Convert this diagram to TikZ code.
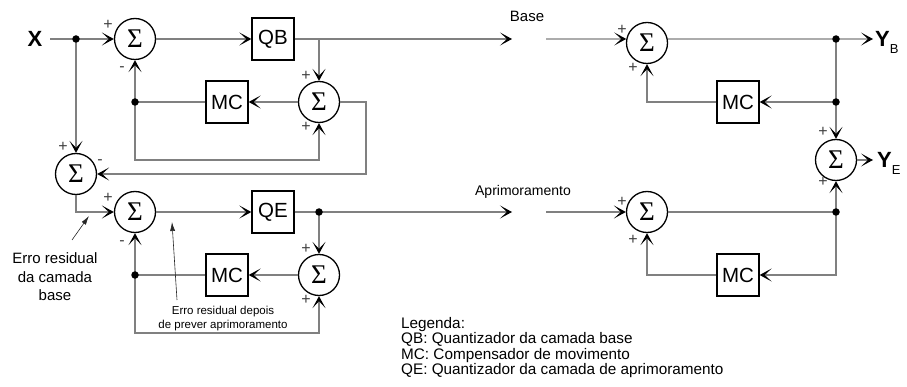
\documentclass[tikz,border=0pt]{standalone}
\usepackage{fontspec}
\setmainfont{Liberation Sans}
\newfontfamily\sigfont{Liberation Serif}
\usetikzlibrary{arrows.meta}
\definecolor{lgray}{RGB}{128,128,128}
\begin{document}
\begin{tikzpicture}[x=1pt,y=-1pt,
  sumnode/.style={circle,draw=black,line width=1.3pt,minimum size=41pt,inner sep=0pt,font=\sigfont\fontsize{27}{27}\selectfont},
  boxnode/.style={draw=black,line width=1.3pt,minimum size=42pt,inner sep=0pt,font=\fontsize{20.5}{20.5}\selectfont},
  conn/.style={draw=lgray,line width=1.1pt},
  arr/.style={conn,-{Stealth[color=black,length=12pt,width=13pt,inset=7pt]}},
  dotnode/.style={circle,fill=black,inner sep=0pt,minimum size=7.5pt},
  sign/.style={font=\fontsize{16}{16}\selectfont,text=black!75,inner sep=0pt},
  lbl/.style={font=\fontsize{15}{15}\selectfont,inner sep=0pt},
  ann/.style={draw=black!85,line width=0.6pt,-{Latex[length=9pt,width=5pt]}},
]
\useasboundingbox (0,0) rectangle (907,387);

% ---- left upper loop
\node[font=\fontsize{22}{22}\selectfont\bfseries,inner sep=0pt] (X) at (35,39) {X};
\coordinate (xin) at (50,39);
\coordinate (d1) at (76,39);
\node[sumnode] (S1) at (135,39) {Σ};
\node[boxnode] (QB) at (273,39) {QB};
\coordinate (b1) at (319,39);
\node[sumnode] (S2) at (319,102) {Σ};
\node[boxnode] (MC1) at (227,102) {MC};
\coordinate (d2) at (135,102);
\coordinate (c1) at (135,160);
\coordinate (c2) at (319,160);
\coordinate (c3) at (366,102);
\coordinate (c4) at (366,174);
\node[sumnode] (S3) at (76,174) {Σ};
\coordinate (c5) at (76,212);
% ---- left lower loop
\node[sumnode] (S4) at (135,212) {Σ};
\node[boxnode] (QE) at (273,212) {QE};
\coordinate (d3) at (319,212);
\node[sumnode] (S6) at (319,275) {Σ};
\node[boxnode] (MC2) at (227,275) {MC};
\coordinate (d4) at (135,275);
\coordinate (c6) at (135,333);
\coordinate (c7) at (319,333);
% ---- right side
\coordinate (a1) at (512,39);
\coordinate (a2) at (546,39);
\node[sumnode] (R1) at (647,43) {Σ};
\coordinate (d5) at (836,39);
\coordinate (d6) at (836,102);
\node[boxnode] (MCR1) at (738,102) {MC};
\coordinate (c8) at (647,102);
\node[sumnode] (S5) at (836,160) {Σ};
\coordinate (yb) at (873,39);
\coordinate (ye) at (873,160);
\node[anchor=base west,inner sep=0pt] (YB) at (875,46.5) {\fontsize{22}{22}\selectfont\bfseries Y\raisebox{-7pt}{\fontsize{13}{13}\selectfont\mdseries B}};
\node[anchor=base west,inner sep=0pt] (YE) at (877,167.5) {\fontsize{22}{22}\selectfont\bfseries Y\raisebox{-7pt}{\fontsize{13}{13}\selectfont\mdseries E}};
\coordinate (a3) at (512,212);
\coordinate (a4) at (546,212);
\node[sumnode] (R2) at (647,212) {Σ};
\coordinate (d7) at (836,212);
\coordinate (c9) at (836,275);
\node[boxnode] (MCR2) at (738,275) {MC};
\coordinate (c10) at (647,275);

\node[lbl] (base) at (527,16) {Base};
\node[lbl,font=\fontsize{14}{14}\selectfont] (apr) at (523,192) {Aprimoramento};

% ---- connectors
\draw[arr] (xin) -- (S1.west);
\draw[arr] (S1.east) -- (QB.west);
\draw[arr] (QB.east) -- (a1);
\draw[arr] (a2) -- (R1.169);
\draw[arr] (b1) -- (S2.north);
\draw[arr] (S2.west) -- (MC1.east);
\draw[arr] (MC1.west) -- (d2) -- (S1.south);
\draw[arr] (d2) -- (c1) -- (c2) -- (S2.south);
\draw[arr] (S2.east) -- (c3) -- (c4) -- (S3.east);
\draw[arr] (d1) -- (S3.north);
\draw[arr] (S3.south) -- (c5) -- (S4.west);
\draw[arr] (S4.east) -- (QE.west);
\draw[arr] (QE.east) -- (a3);
\draw[arr] (a4) -- (R2.west);
\draw[arr] (d3) -- (S6.north);
\draw[arr] (S6.west) -- (MC2.east);
\draw[arr] (MC2.west) -- (d4) -- (S4.south);
\draw[arr] (d4) -- (c6) -- (c7) -- (S6.south);
\draw[arr] (R1.11) -- (d5) -- (yb);
\draw[arr] (d5) -- (d6) -- (S5.north);
\draw[arr] (d6) -- (MCR1.east);
\draw[arr] (MCR1.west) -- (c8) -- (R1.south);
\draw[arr] (R2.east) -- (d7) -- (S5.south);
\draw[arr] (d7) -- (c9) -- (MCR2.east);
\draw[arr] (MCR2.west) -- (c10) -- (R2.south);
\draw[arr] (S5.east) -- (ye);

% ---- junction dots
\node[dotnode] (d1dot) at (d1) {};
\node[dotnode] (d2dot) at (d2) {};
\node[dotnode] (d3dot) at (d3) {};
\node[dotnode] (d4dot) at (d4) {};
\node[dotnode] (d5dot) at (d5) {};
\node[dotnode] (d6dot) at (d6) {};
\node[dotnode] (d7dot) at (d7) {};

% ---- signs
\node[sign] (p1) at (108,25) {+};
\node[sign] (m1) at (122,69) {-};
\node[sign] (p2) at (306,76) {+};
\node[sign] (p3) at (306,127) {+};
\node[sign] (p4) at (63,147) {+};
\node[sign] (m2) at (100,162) {-};
\node[sign] (p5) at (108,198) {+};
\node[sign] (m3) at (122,243) {-};
\node[sign] (p6) at (306,249) {+};
\node[sign] (p7) at (306,300) {+};
\node[sign] (p8) at (622,30) {+};
\node[sign] (p9) at (633,68) {+};
\node[sign] (p10) at (622,202) {+};
\node[sign] (p11) at (633,240) {+};
\node[sign] (p12) at (823,132) {+};
\node[sign] (p13) at (823,182) {+};

% ---- annotations
\node[align=center,font=\fontsize{15}{18.5}\selectfont,inner sep=0pt] (ann1) at (55,277) {Erro residual\\da camada\\base};
\coordinate (t1s) at (72,240);
\coordinate (t1) at (89,216);
\draw[ann] (t1s) -- (t1);
\node[align=center,font=\fontsize{11.5}{14}\selectfont,inner sep=0pt] (ann2) at (223,319) {Erro residual depois\\de prever aprimoramento};
\coordinate (t2s) at (177,300);
\coordinate (t2) at (172,222);
\draw[ann] (t2s) -- (t2);

% ---- legend
\node[anchor=base west,align=left,font=\fontsize{15.3}{15.5}\selectfont,inner sep=0pt] (leg) at (401,374.5) {Legenda:\\QB: Quantizador da camada base\\MC: Compensador de movimento\\QE: Quantizador da camada de aprimoramento};
\end{tikzpicture}
\end{document}
